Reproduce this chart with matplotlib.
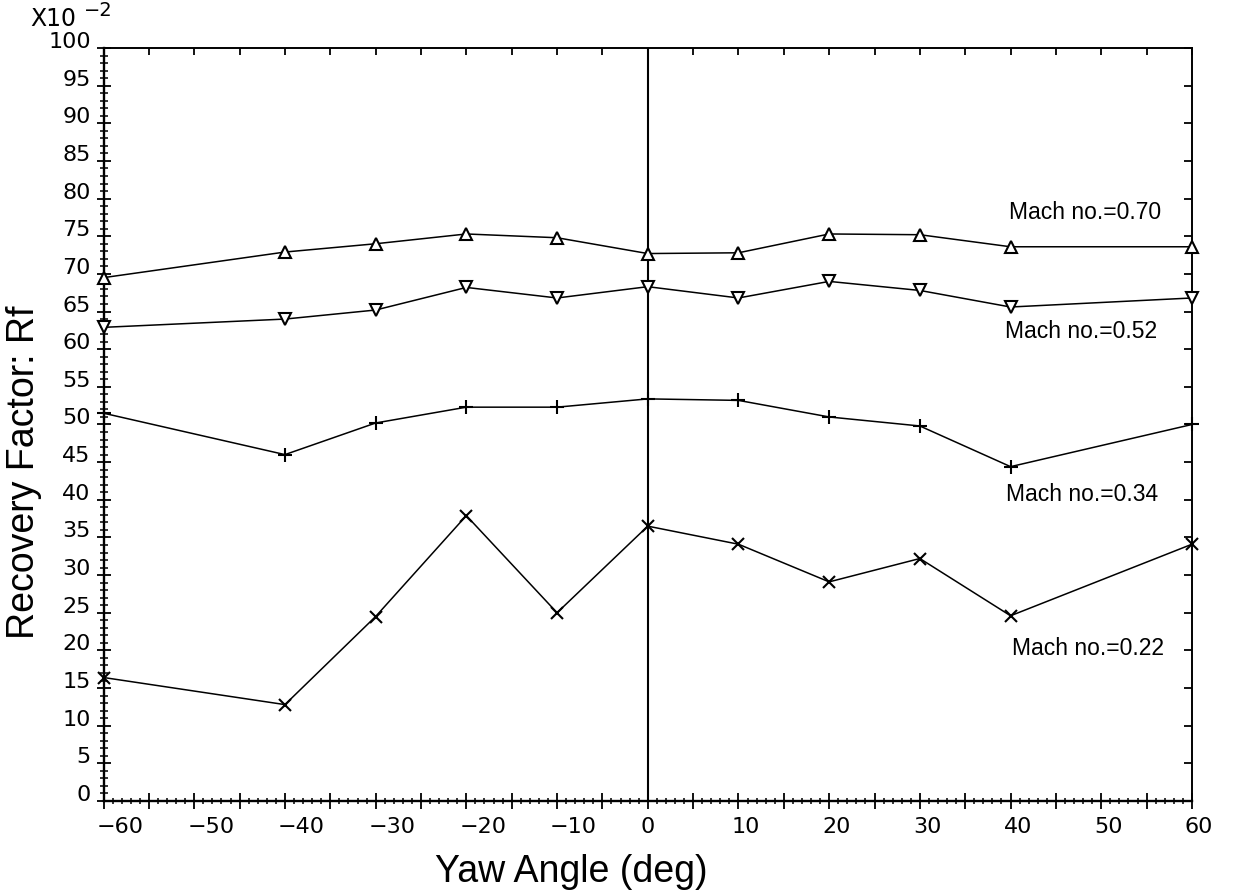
import matplotlib
matplotlib.use("Agg")
import matplotlib.pyplot as plt
import matplotlib.transforms as mtransforms
from matplotlib.ticker import MultipleLocator, FuncFormatter, NullLocator

# ---- data (Recovery factor, units of 10^-2) ----
yaw = [-60, -40, -30, -20, -10, 0, 10, 20, 30, 40, 60]
rf_m070 = [69.5, 72.9, 74.0, 75.3, 74.8, 72.7, 72.8, 75.3, 75.2, 73.6, 73.6]
rf_m052 = [62.9, 64.0, 65.2, 68.2, 66.8, 68.3, 66.8, 69.0, 67.8, 65.6, 66.8]
rf_m034 = [51.5, 46.0, 50.2, 52.3, 52.3, 53.4, 53.2, 51.0, 49.8, 44.4, 50.0]
rf_m022 = [16.4, 12.8, 24.5, 37.9, 25.0, 36.5, 34.1, 29.1, 32.2, 24.6, 34.1]

series_labels = ["Mach no.=0.70", "Mach no.=0.52", "Mach no.=0.34", "Mach no.=0.22"]
label_pos = [(39.8, 78.1), (39.4, 62.3), (39.5, 40.7), (40.2, 20.3)]

x_label = "Yaw Angle (deg)"
y_label = "Recovery Factor: Rf"

LAB_FONT = "Liberation Sans"
TICK_FONT = "DejaVu Sans"

fig = plt.figure(figsize=(12.37, 8.90), dpi=100)
ax = fig.add_axes([0.0837, 0.1000, 0.8799, 0.8461])
ax.set_xlim(-60, 60)
ax.set_ylim(0, 100)

line_kw = dict(color="black", lw=1.1, clip_on=False, zorder=3)
ax.plot(yaw, rf_m070, marker="^", ms=8.5, mfc="white", mec="black", mew=1.5, **line_kw)
ax.plot(yaw, rf_m052, marker="v", ms=8.5, mfc="white", mec="black", mew=1.5, **line_kw)
ax.plot(yaw, rf_m034, marker="+", ms=9.5, mec="black", mew=1.5, **line_kw)
ax.plot(yaw, rf_m022, marker="x", ms=8.5, mec="black", mew=1.5, **line_kw)

ax.axvline(0, color="black", lw=1.5, zorder=2)

for txt, (tx, ty) in zip(series_labels, label_pos):
    ax.text(tx, ty, txt, fontsize=16.5, family=LAB_FONT, ha="left", va="center")

# ---- ticks ----
ax.xaxis.set_major_locator(MultipleLocator(5))
ax.xaxis.set_minor_locator(MultipleLocator(1))
ax.yaxis.set_major_locator(MultipleLocator(5))
ax.yaxis.set_minor_locator(MultipleLocator(1))

def xfmt(v, p):
    iv = int(round(v))
    if iv % 10 != 0:
        return ""
    return str(iv).replace("-", "\u2212")

ax.xaxis.set_major_formatter(FuncFormatter(xfmt))
ax.yaxis.set_major_formatter(FuncFormatter(lambda v, p: f"{int(round(v))}"))

ax.tick_params(axis="x", which="major", direction="inout", length=11.5, width=1.3,
               top=False, labelsize=16, pad=5.5)
ax.tick_params(axis="x", which="minor", direction="inout", length=5, width=1.1, top=False)
ax.tick_params(axis="y", which="major", direction="inout", length=9.5, width=1.3,
               right=False, labelsize=16, pad=4.5)
ax.tick_params(axis="y", which="minor", direction="inout", length=5.5, width=1.1, right=False)

for lbl in ax.get_xticklabels():
    lbl.set_family(TICK_FONT)
for lbl in ax.get_yticklabels():
    lbl.set_family(TICK_FONT)
    lbl.set_va("baseline")

offset = mtransforms.ScaledTranslation(-7 / 100, 0, fig.dpi_scale_trans)
for lbl in ax.get_xticklabels():
    lbl.set_ha("left")
    lbl.set_transform(lbl.get_transform() + offset)

for side in ["left", "bottom"]:
    ax.spines[side].set_linewidth(1.7)
for side in ["top", "right"]:
    ax.spines[side].set_linewidth(1.2)

# top and right: inward major ticks only
sx = ax.secondary_xaxis("top")
sx.xaxis.set_major_locator(MultipleLocator(5))
sx.xaxis.set_minor_locator(NullLocator())
sx.tick_params(direction="in", length=5, width=1.3, labeltop=False)
sx.spines["top"].set_linewidth(1.2)
sy = ax.secondary_yaxis("right")
sy.yaxis.set_major_locator(MultipleLocator(5))
sy.yaxis.set_minor_locator(NullLocator())
sy.tick_params(direction="in", length=6, width=1.3, labelright=False)
sy.spines["right"].set_linewidth(1.2)

# ---- axis labels ----
ax.set_xlabel(x_label, fontsize=27, family=LAB_FONT)
ax.xaxis.set_label_coords(0.4295, -0.094)
ax.xaxis.label.set_va("center")
ax.set_ylabel(y_label, fontsize=27, family=LAB_FONT)
ax.yaxis.set_label_coords(-0.073, 0.437)
ax.yaxis.label.set_va("center")

# scale factor note
fig.text(30 / 1237, 1 - 26 / 890, "X10", fontsize=17, family=TICK_FONT, ha="left", va="baseline")
fig.text(84 / 1237, 1 - 16 / 890, "\u22122", fontsize=14, family=TICK_FONT, ha="left", va="baseline")

fig.savefig("out.png", dpi=100)
